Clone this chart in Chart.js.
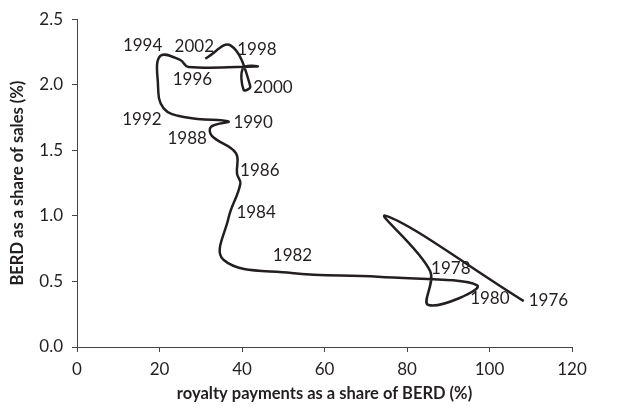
<!DOCTYPE html>
<html>
<head>
<meta charset="utf-8">
<script src="https://cdn.jsdelivr.net/npm/chart.js@4"></script>
<style>
  html, body { margin: 0; padding: 0; background: #fff; }
</style>
</head>
<body>
<canvas id="berdChart" width="640" height="414"></canvas>
<script>
// yearly observations, 1976 - 2002
const years = [1976, 1977, 1978, 1979, 1980, 1981, 1982, 1983, 1984, 1985, 1986, 1987, 1988, 1989,
               1990, 1991, 1992, 1993, 1994, 1995, 1996, 1997, 1998, 1999, 2000, 2001, 2002];
const royaltyShare = [108.3, 74.9, 85.6, 85.2, 97.0, 73.0, 52.0, 35.5, 36.7, 39.6, 38.8, 38.5, 32.7, 32.5,
                      36.7, 26.7, 21.0, 19.6, 20.2, 25.0, 27.0, 43.7, 40.3, 40.4, 42.0, 37.2, 31.1];
const berdShare = [0.35, 1.00, 0.58, 0.32, 0.47, 0.535, 0.565, 0.665, 0.98, 1.245, 1.32, 1.48, 1.61, 1.68,
                   1.72, 1.75, 1.82, 2.02, 2.22, 2.19, 2.136, 2.14, 2.13, 1.96, 1.99, 2.30, 2.20];
const xTicks = [0, 20, 40, 60, 80, 100, 120];
const yTicks = [0.0, 0.5, 1.0, 1.5, 2.0, 2.5];

const ink = '#231f20';
const fontFamily = 'Lato, "Open Sans", sans-serif';

// where each year label sits relative to its point
const labelOffsets = {
    1976: { align: 'left', dx: 5, dy: -1 },
    1978: { align: 'left', dx: 1, dy: -2 },
    1980: { align: 'left', dx: -7, dy: 13 },
    1982: { align: 'center', dx: 1, dy: -17 },
    1984: { align: 'left', dx: 8, dy: -6 },
    1986: { align: 'left', dx: 3, dy: -3 },
    1988: { align: 'right', dx: -5, dy: 3 },
    1990: { align: 'left', dx: 5, dy: 1 },
    1992: { align: 'right', dx: -2, dy: 11 },
    1994: { align: 'right', dx: 2, dy: -10 },
    1996: { align: 'center', dx: 4, dy: 13 },
    1998: { align: 'left', dx: -6, dy: -18 },
    2000: { align: 'left', dx: 3, dy: 1 },
    2002: { align: 'center', dx: -11, dy: -12 }
};

const yearLabels = {
    id: 'yearLabels',
    afterDatasetsDraw(chart) {
        const meta = chart.getDatasetMeta(0);
        const ctx = chart.ctx;
        ctx.save();
        ctx.font = '17px ' + fontFamily;
        ctx.fillStyle = ink;
        ctx.textBaseline = 'middle';
        years.forEach((yr, i) => {
            const off = labelOffsets[yr];
            if (!off) return;
            const pt = meta.data[i];
            ctx.textAlign = off.align;
            ctx.fillText(String(yr), pt.x + off.dx, pt.y + off.dy);
        });
        ctx.restore();
    }
};

let points = years.map((yr, i) => ({ x: royaltyShare[i], y: berdShare[i] }));

new Chart(document.getElementById('berdChart'), {
    type: 'scatter',
    data: {
        datasets: [{
            data: points,
            showLine: true,
            tension: 0.4,
            borderColor: ink,
            borderWidth: 2.5,
            pointRadius: 0,
            pointHoverRadius: 0,
            fill: false
        }]
    },
    options: {
        responsive: false,
        animation: false,
        layout: { padding: { top: 15, right: 68, left: 0, bottom: 0 } },
        plugins: { legend: { display: false }, tooltip: { enabled: false } },
        scales: {
            x: {
                type: 'linear',
                min: 0,
                max: 120,
                afterBuildTicks: scale => { scale.ticks = xTicks.map(v => ({ value: v })); },
                afterFit: scale => { scale.height = 67; },
                grid: { drawOnChartArea: false, drawTicks: true, tickLength: 5, color: '#444' },
                border: { color: '#444', width: 1 },
                ticks: { color: ink, font: { family: fontFamily, size: 17 }, padding: 7, maxRotation: 0 },
                title: {
                    display: true,
                    text: 'royalty payments as a share of BERD (%)',
                    color: ink,
                    font: { family: fontFamily, size: 16.5, weight: 'bold' },
                    padding: { top: 0, bottom: 10 }
                }
            },
            y: {
                type: 'linear',
                min: 0,
                max: 2.5,
                afterBuildTicks: scale => { scale.ticks = yTicks.map(v => ({ value: v })); },
                afterFit: scale => { scale.width = 77; },
                grid: { drawOnChartArea: false, drawTicks: true, tickLength: 5, color: '#444' },
                border: { color: '#444', width: 1 },
                ticks: {
                    color: ink,
                    font: { family: fontFamily, size: 17 },
                    padding: 9,
                    callback: v => v.toFixed(1)
                },
                title: {
                    display: true,
                    text: 'BERD as a share of sales (%)',
                    color: ink,
                    font: { family: fontFamily, size: 16.5, weight: 'bold' },
                    padding: { top: 8, bottom: 0 }
                }
            }
        }
    },
    plugins: [yearLabels]
});
</script>
</body>
</html>
